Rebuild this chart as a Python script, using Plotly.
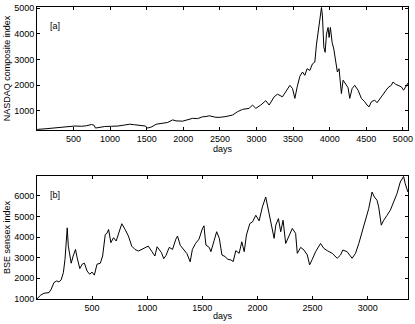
import plotly.graph_objects as go
from plotly.subplots import make_subplots

# NASDAQ composite index [a]
nasdaq_days = [1, 10, 110, 200, 314, 427, 518, 609, 677, 745, 781, 800, 835, 926,
               1017, 1107, 1198, 1266, 1334, 1425, 1479, 1515, 1570, 1629, 1697,
               1787, 1855, 1900, 1991, 2059, 2127, 2195, 2263, 2309, 2354, 2445,
               2500, 2582, 2673, 2741, 2809, 2900, 2945, 2991, 3059, 3127, 3173,
               3241, 3286, 3355, 3423, 3456, 3492, 3524, 3556, 3592, 3629, 3660,
               3692, 3729, 3765, 3797, 3820, 3842, 3865, 3888, 3901, 3920, 3938,
               3956, 3978, 3992, 4010, 4033, 4056, 4083, 4105, 4128, 4146, 4160,
               4183, 4219, 4251, 4274, 4306, 4342, 4388, 4433, 4479, 4510, 4538,
               4570, 4615, 4647, 4692, 4751, 4797, 4842, 4865, 4901, 4933, 4979,
               5010, 5047, 5070]
nasdaq_vals = [250, 270, 290, 310, 330, 360, 400, 390, 410, 460, 430, 320, 340, 380,
               390, 400, 440, 470, 450, 420, 400, 320, 370, 470, 490,
               540, 640, 600, 590, 660, 700, 690, 760, 770, 800, 740,
               740, 770, 830, 960, 1050, 1090, 1220, 1090, 1220, 1390, 1220,
               1540, 1645, 1540, 1825, 1990, 1865, 1480, 1930, 2340, 2510, 2380,
               2640, 2570, 2830, 2900, 3600, 4120, 4570, 5030, 4700, 3480, 3280,
               3990, 4250, 3860, 4250, 3670, 3410, 2830, 2510, 2640, 2120, 1670,
               2190, 2060, 1900, 1480, 1860, 1990, 1800, 1480, 1350, 1220, 1150,
               1350, 1410, 1310, 1480, 1740, 1900, 1990, 2120, 2030, 1990, 1930,
               1800, 1990, 2080]

# BSE sensex index [b]
bse_days = [1, 35, 65, 110, 130, 155, 180, 200, 220, 240, 255, 265, 275, 285, 296,
            311, 329, 350, 365, 389, 410, 431, 455, 479, 500, 521, 545, 575, 596,
            620, 635, 650, 671, 695, 719, 740, 770, 800, 830, 860, 890, 920, 950,
            980, 1010, 1040, 1070, 1090, 1130, 1150, 1170, 1200, 1230, 1260, 1275,
            1300, 1330, 1360, 1390, 1410, 1440, 1470, 1500, 1515, 1525, 1533, 1563,
            1578, 1608, 1630, 1654, 1678, 1708, 1729, 1759, 1780, 1804, 1834, 1858,
            1880, 1900, 1931, 1955, 1985, 2015, 2045, 2075, 2099, 2120, 2151, 2166,
            2190, 2211, 2232, 2256, 2286, 2316, 2346, 2361, 2392, 2422, 2452, 2473,
            2497, 2527, 2572, 2602, 2633, 2678, 2723, 2753, 2774, 2813, 2858, 2889,
            2919, 2949, 2979, 3009, 3039, 3060, 3084, 3099, 3123, 3145, 3175, 3205,
            3235, 3265, 3295, 3325, 3340, 3364]
bse_vals = [1000, 1180, 1270, 1300, 1470, 1790, 1870, 1820, 1920, 2270, 2920, 4050,
            4450, 3560, 3160, 2730, 3080, 3400, 3000, 2470, 2680, 2730, 2350, 2190,
            2300, 2150, 2680, 2730, 3080, 4130, 4180, 4370, 3730, 3970, 3810, 4210,
            4650, 4370, 4050, 3560, 3400, 3320, 3400, 3480, 3560, 3320, 3080, 3530,
            3240, 2950, 3100, 3500, 3400, 3900, 4050, 3600, 3400, 3200, 2800, 3400,
            3700, 3900, 4400, 4550, 4000, 3610, 3500, 3290, 3850, 4260, 3940, 3130,
            3050, 2920, 2890, 2810, 3340, 3210, 3770, 3290, 4100, 4660, 4740, 5060,
            4790, 5470, 5950, 5310, 4740, 3940, 4580, 4900, 4260, 4820, 3690, 4100,
            4420, 4180, 3210, 3500, 3370, 3130, 2650, 2920, 3290, 3690, 3450, 3340,
            3210, 2970, 3130, 3370, 3290, 2970, 3210, 3690, 4260, 4820, 5390, 6190,
            5950, 5790, 5470, 4580, 4820, 5060, 5310, 5710, 6110, 6680, 6950, 6600,
            6190]

font = "Liberation Sans, Arial, sans-serif"
title_font = dict(family=font, size=9, color="black")

fig = make_subplots(rows=2, cols=1, vertical_spacing=0.0)
fig.add_trace(go.Scatter(x=nasdaq_days, y=nasdaq_vals, mode="lines",
                         line=dict(color="black", width=1)), row=1, col=1)
fig.add_trace(go.Scatter(x=bse_days, y=bse_vals, mode="lines",
                         line=dict(color="black", width=1)), row=2, col=1)

axis_style = dict(showline=True, linecolor="black", linewidth=1, mirror="ticks",
                  ticks="inside", ticklen=3, tickcolor="black", showgrid=False,
                  zeroline=False, automargin=False,
                  tickfont=dict(family=font, size=9, color="black"))

fig.update_xaxes(axis_style)
fig.update_yaxes(axis_style)

fig.update_layout(
    xaxis=dict(range=[1, 5070], tickvals=list(range(500, 5001, 500)),
               title=dict(text="days", standoff=0, font=title_font)),
    yaxis=dict(range=[245, 5050], tickvals=[1000, 2000, 3000, 4000, 5000],
               domain=[0.5788, 1.0],
               title=dict(text="NASDAQ composite index", standoff=2, font=title_font)),
    xaxis2=dict(range=[1, 3365], tickvals=list(range(500, 3001, 500)),
                title=dict(text="days", standoff=0, font=title_font)),
    yaxis2=dict(range=[990, 6970], tickvals=[1000, 2000, 3000, 4000, 5000, 6000],
                domain=[0.0, 0.4212],
                title=dict(text="BSE sensex index", standoff=2, font=title_font)),
    width=415, height=324,
    margin=dict(l=37, r=7, t=7, b=25),
    paper_bgcolor="white", plot_bgcolor="white",
    showlegend=False,
    annotations=[
        dict(text="[a]", x=0.03, y=0.9, xref="x domain", yref="y domain",
             showarrow=False, xanchor="left", font=title_font),
        dict(text="[b]", x=0.03, y=0.9, xref="x2 domain", yref="y2 domain",
             showarrow=False, xanchor="left", font=title_font),
    ],
)

# page body has a default 8px margin, drop it so the figure sits at 0,0
fig.write_html("out.html", config={"displayModeBar": False},
               post_script="document.body.style.margin='0';")
